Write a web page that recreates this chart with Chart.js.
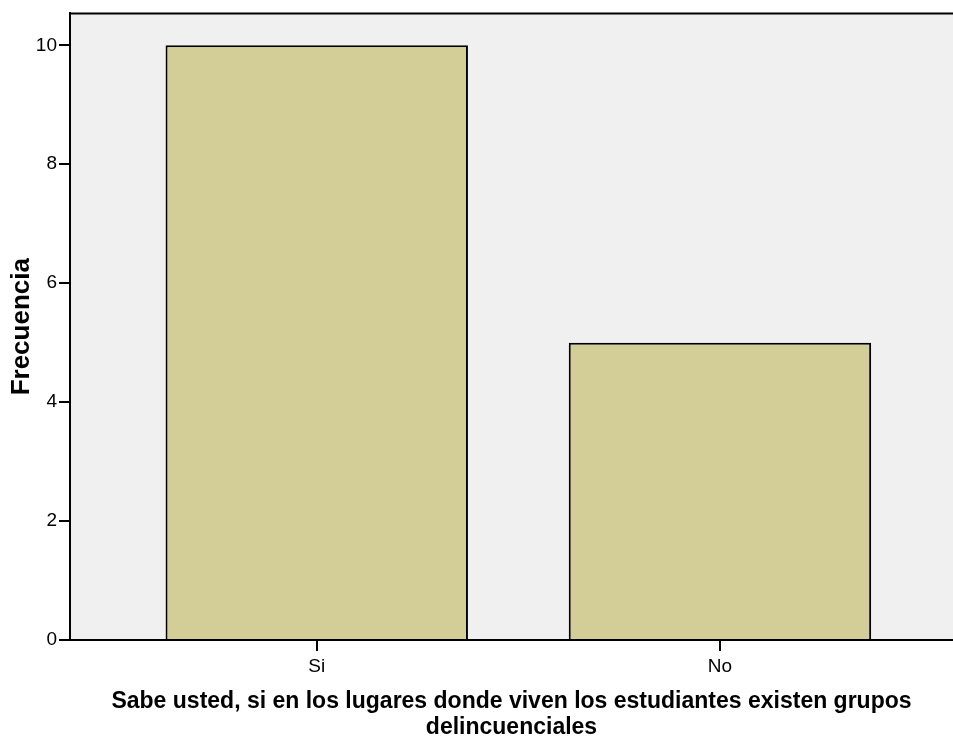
<!DOCTYPE html>
<html>
<head>
<meta charset="utf-8">
<script src="https://cdn.jsdelivr.net/npm/chart.js@4"></script>
<style>
  html, body { margin: 0; padding: 0; background: #fff; }
  canvas { display: block; }
</style>
</head>
<body>
<canvas id="chart" width="953" height="742"></canvas>
<script>
const categories = ["Si", "No"];
const frecuencia = [10, 5];
const yTicks = [0, 2, 4, 6, 8, 10];
const xTitle = ["Sabe usted, si en los lugares donde viven los estudiantes existen grupos", "delincuenciales"];
const yTitle = "Frecuencia";

// grey plot background plus the top frame line
const frame = {
  id: "frame",
  beforeDraw(chart) {
    const { ctx, chartArea: a } = chart;
    ctx.save();
    ctx.fillStyle = "#f0f0f0";
    ctx.fillRect(a.left, a.top, a.right - a.left, a.bottom - a.top);
    ctx.restore();
  },
  afterDraw(chart) {
    const { ctx, chartArea: a } = chart;
    ctx.save();
    ctx.strokeStyle = "#000";
    ctx.lineWidth = 2;
    ctx.beginPath();
    ctx.moveTo(a.left, a.top);
    ctx.lineTo(a.right, a.top);
    ctx.stroke();
    ctx.restore();
  },
};

const ctx = document.getElementById("chart");
new Chart(ctx, {
  type: "bar",
  data: {
    datasets: [
      {
        data: categories.map((c, i) => ({ x: i + 1, y: frecuencia[i] })),
        backgroundColor: "rgb(211, 206, 151)",
        borderColor: "#000",
        borderWidth: 2,
        barPercentage: 0.75,
        categoryPercentage: 1,
      },
    ],
  },
  options: {
    responsive: false,
    animation: false,
    layout: { padding: 0 },
    plugins: {
      legend: { display: false },
      tooltip: { enabled: false },
    },
    scales: {
      x: {
        type: "linear",
        offset: false,
        min: 0.388,
        max: 2.578,
        afterBuildTicks: (scale) => {
          scale.ticks = categories.map((c, i) => ({ value: i + 1 }));
        },
        afterFit: (scale) => {
          scale.height = 102;
        },
        grid: {
          offset: false,
          drawOnChartArea: false,
          color: "#000",
          tickLength: 11,
          lineWidth: 2,
        },
        border: { color: "#000", width: 2 },
        ticks: {
          color: "#000",
          padding: 4,
          maxRotation: 0,
          font: { family: "Liberation Sans, Arial, sans-serif", size: 19 },
          callback: (value) => categories[value - 1],
        },
        title: {
          display: true,
          text: xTitle,
          color: "#000",
          padding: { top: 0, bottom: 1 },
          font: { family: "Liberation Sans, Arial, sans-serif", size: 23, weight: "bold", lineHeight: 1.13 },
        },
      },
      y: {
        min: 0,
        max: 10.536,
        afterBuildTicks: (scale) => {
          scale.ticks = yTicks.map((v) => ({ value: v }));
        },
        afterFit: (scale) => {
          scale.width = 70;
        },
        grid: {
          drawOnChartArea: false,
          color: "#000",
          tickLength: 11,
          lineWidth: 2,
        },
        border: { color: "#000", width: 2 },
        ticks: {
          color: "#000",
          padding: 2,
          font: { family: "Liberation Sans, Arial, sans-serif", size: 19 },
        },
        title: {
          display: true,
          text: yTitle,
          color: "#000",
          padding: { top: 6, bottom: 0 },
          font: { family: "Liberation Sans, Arial, sans-serif", size: 26, weight: "bold", lineHeight: 1.2 },
        },
      },
    },
  },
  plugins: [frame],
});
</script>
</body>
</html>
